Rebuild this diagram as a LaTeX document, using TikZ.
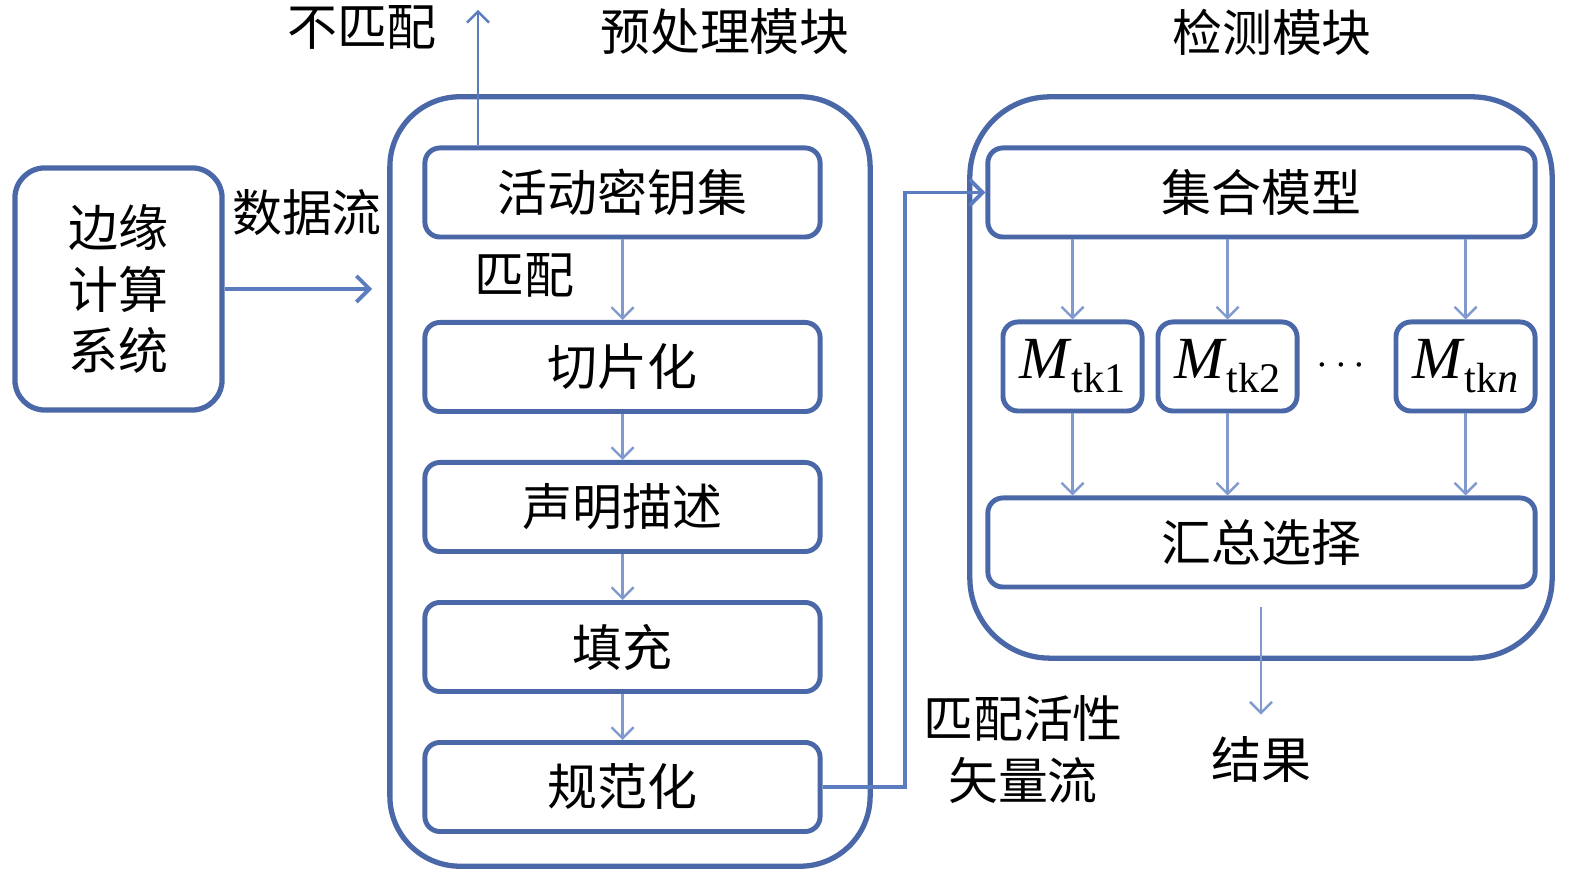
\documentclass[tikz,border=0pt]{standalone}
\usepackage{fontspec}
\setmainfont{Liberation Serif}
\newfontfamily\cjk{Noto Sans CJK SC}
\usetikzlibrary{arrows.meta}

\definecolor{boxblue}{HTML}{4A68A8}
\definecolor{linkblue}{HTML}{5B7DC0}
\definecolor{thinblue}{HTML}{8099CF}

\newcommand{\mtk}[1]{\textit{M}\raisebox{-0.5ex}{\fontsize{12}{13}\selectfont tk#1}}

\tikzset{
  zh/.style={font=\cjk\fontsize{14.2}{17.6}\selectfont},
  modbox/.style={draw=boxblue, line width=1.5pt, inner sep=0pt},
  stepbox/.style={draw=boxblue, line width=1.4pt, rounded corners=0.15cm,
    minimum width=3.95cm, minimum height=0.89cm, zh},
  mbox/.style={stepbox, minimum width=1.39cm, font=\fontsize{17}{19}\selectfont},
  link/.style={draw=linkblue, line width=1.1pt, -{Straight Barb[length=1.3mm,width=2.6mm]}},
  thin link/.style={draw=thinblue, line width=0.7pt, -{Straight Barb[length=1.1mm,width=2.2mm]}},
}

\begin{document}
\begin{tikzpicture}[x=0.01cm, y=-0.01cm]
\useasboundingbox (0,0) rectangle (1575,874);

% module frames
\node[modbox, rounded corners=0.3cm, minimum width=2.07cm, minimum height=2.42cm,
  zh, align=center] (edge) at (118.5,289) {边缘\\计算\\系统};
\node[modbox, rounded corners=0.7cm, minimum width=4.8cm, minimum height=7.69cm] (pre) at (630,481.5) {};
\node[modbox, rounded corners=0.8cm, minimum width=5.82cm, minimum height=5.61cm] (det) at (1261,377.5) {};
\node[zh] (pretitle) at (725,32) {预处理模块};
\node[zh] (dettitle) at (1272,32) {检测模块};

% preprocessing steps
\node[stepbox] (key) at (622.5,192.5) {活动密钥集};
\node[stepbox] (slice) at (622.5,367) {切片化};
\node[stepbox] (decl) at (622.5,507) {声明描述};
\node[stepbox] (pad) at (622.5,647) {填充};
\node[stepbox] (norm) at (622.5,787) {规范化};

% detection
\node[stepbox, minimum width=5.47cm] (ens) at (1261.5,192.5) {集合模型};
\node[mbox] (m1) at (1072.5,366.5) {\mtk{1}};
\node[mbox] (m2) at (1227.5,366.5) {\mtk{2}};
\node[mbox] (mn) at (1465.5,366.5) {\mtk{\textit{n}}};
\node[font=\fontsize{12}{13}\selectfont] (dots) at (1341,366) {$\cdots$};
\node[stepbox, minimum width=5.47cm] (sel) at (1261.5,542.5) {汇总选择};

% labels
\node[zh] (nomatch) at (362,27) {不匹配};
\node[zh] (flow) at (307,213) {数据流};
\node[zh] (match) at (524,275) {匹配};
\node[zh, align=center] (vec) at (1023,750) {匹配活性\\矢量流};
\node[zh] (out) at (1261,760) {结果};
\coordinate (up) at (478,10);
\coordinate (turn) at (905,0);

% connectors
\draw[link] (edge.east) -- (edge.east -| pre.west) [shorten >=0.15cm];
\draw[thin link, draw=linkblue] (key.north -| up) -- (up);
\draw[thin link] (key) -- (slice);
\draw[thin link] (slice) -- (decl);
\draw[thin link] (decl) -- (pad);
\draw[thin link] (pad) -- (norm);
\draw[link] (norm.east) -- (norm.east -| turn) |- (ens.west);
\foreach \m in {m1,m2,mn} {
  \draw[thin link] (ens.south -| \m) -- (\m);
  \draw[thin link] (\m) -- (\m |- sel.north);
}
\draw[thin link, shorten <=0.18cm, shorten >=0.1cm] (sel.south -| out) -- (out.north);
\end{tikzpicture}
\end{document}
